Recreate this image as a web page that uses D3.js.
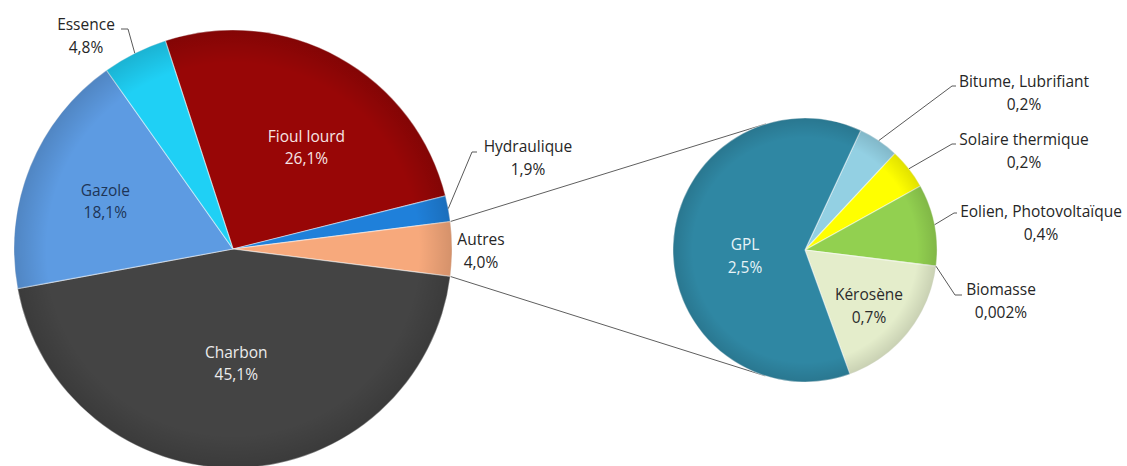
<!DOCTYPE html>
<html>
<head>
<meta charset="utf-8">
<script src="https://cdn.jsdelivr.net/npm/d3@7"></script>
<style>
  html, body { margin: 0; padding: 0; background: #ffffff; }
  svg { display: block; }
  text { font-family: "Open Sans", Lato, sans-serif; font-size: 15.5px; }
</style>
</head>
<body>
<svg id="chart" width="1127" height="466"></svg>
<script>
// ---------- DATA ----------
const mainCategories = ["Fioul lourd", "Hydraulique", "Autres", "Charbon", "Gazole", "Essence"];
const mainValues     = [26.1, 1.9, 4.0, 45.1, 18.1, 4.8];
const mainLabels     = ["26,1%", "1,9%", "4,0%", "45,1%", "18,1%", "4,8%"];

const subCategories  = ["Bitume, Lubrifiant", "Solaire thermique", "Eolien, Photovoltaïque", "Biomasse", "Kérosène", "GPL"];
const subValues      = [0.2, 0.2, 0.4, 0.002, 0.7, 2.5];
const subLabels      = ["0,2%", "0,2%", "0,4%", "0,002%", "0,7%", "2,5%"];

const otherCategory = "Autres";

// ---------- STYLE / LAYOUT ----------
const mainColors = {
  "Fioul lourd": "#980606", "Hydraulique": "#1f80da", "Autres": "#f7a97c",
  "Charbon": "#444444", "Gazole": "#5d9be2", "Essence": "#1fd0f5"
};
const subColors = {
  "Bitume, Lubrifiant": "#93d0e3", "Solaire thermique": "#ffff00",
  "Eolien, Photovoltaïque": "#92d050", "Biomasse": "#7fb13c",
  "Kérosène": "#e4edcb", "GPL": "#2f87a3"
};

const main = { cx: 233, cy: 249, r: 219 };
const sub  = { cx: 805, cy: 250, r: 132, start: 25 * Math.PI / 180 };

const mainLabelLayout = {
  "Fioul lourd": { inside: true, dA: 7, rr: 125, color: "#f6e4e4" },
  "Charbon":     { inside: true, dA: 0, rr: 115, color: "#ececec" },
  "Gazole":      { inside: true, dA: -2, rr: 136, color: "#1d3557" },
  "Essence":     { x: 86, y: 30, elbow: [128, 29], end: [121, 29] },
  "Hydraulique": { x: 528, y: 152, elbow: [472, 152], end: [477, 152] },
  "Autres":      { x: 481, y: 245 }
};
const subLabelLayout = {
  "GPL":                    { inside: true, x: 745, y: 250, color: "#e8f3f7" },
  "Kérosène":               { inside: true, x: 869, y: 300, color: "#2b2b2b" },
  "Bitume, Lubrifiant":     { x: 1024, y: 87,  elbow: [952, 86],  end: [956, 86] },
  "Solaire thermique":      { x: 1024, y: 145, elbow: [952, 144], end: [956, 144] },
  "Eolien, Photovoltaïque": { x: 1041, y: 217, elbow: [954, 213], end: [957, 213] },
  "Biomasse":               { x: 1001, y: 295, elbow: [955, 295], end: [962, 295] }
};
const lineGap = 22.5;

const svg = d3.select("#chart");
const defs = svg.append("defs");

function shade(id, inner, outer) {
  const g = defs.append("radialGradient").attr("id", id)
    .attr("cx", "50%").attr("cy", "50%").attr("r", "50%");
  g.append("stop").attr("offset", "0%").attr("stop-color", "#000").attr("stop-opacity", inner);
  g.append("stop").attr("offset", "85%").attr("stop-color", "#000").attr("stop-opacity", inner);
  g.append("stop").attr("offset", "100%").attr("stop-color", "#000").attr("stop-opacity", outer);
}
shade("shadeMain", 0, 0.14);
shade("shadeSub", 0, 0.12);

// ---------- MAIN PIE ----------
const total = d3.sum(mainValues);
const idxOther = mainCategories.indexOf(otherCategory);
const before = d3.sum(mainValues.slice(0, idxOther));
const mainStart = Math.PI / 2 - (before + mainValues[idxOther] / 2) / total * 2 * Math.PI;

const mainPie = d3.pie().sort(null).value(d => d.v)
  .startAngle(mainStart).endAngle(mainStart + 2 * Math.PI);
const mainData = mainPie(mainCategories.map((c, i) => ({ c, v: mainValues[i], l: mainLabels[i] })));
const mainArc = d3.arc().innerRadius(0).outerRadius(main.r);

// ---------- SUB PIE ----------
const subPie = d3.pie().sort(null).value(d => d.v)
  .startAngle(sub.start).endAngle(sub.start + 2 * Math.PI);
const subData = subPie(subCategories.map((c, i) => ({ c, v: subValues[i], l: subLabels[i] })));
const subArc = d3.arc().innerRadius(0).outerRadius(sub.r);

// ---------- CONNECTOR LINES ----------
const otherSlice = mainData[idxOther];
function polar(cx, cy, r, a) { return [cx + r * Math.sin(a), cy - r * Math.cos(a)]; }
const pTop = polar(main.cx, main.cy, main.r, otherSlice.startAngle);
const pBot = polar(main.cx, main.cy, main.r, otherSlice.endAngle);
function tangent(p, upper) {
  const dx = p[0] - sub.cx, dy = p[1] - sub.cy;
  const d = Math.hypot(dx, dy);
  const phi = Math.atan2(dy, dx);
  const a = Math.acos(sub.r / d);
  const t = upper ? phi + a : phi - a;
  return [sub.cx + sub.r * Math.cos(t), sub.cy + sub.r * Math.sin(t)];
}
const tTop = tangent(pTop, true);
const tBot = tangent(pBot, false);
const conn = svg.append("g").attr("stroke", "#5f5f5f").attr("stroke-width", 1).attr("fill", "none");
conn.append("line").attr("x1", pTop[0]).attr("y1", pTop[1]).attr("x2", tTop[0]).attr("y2", tTop[1]);
conn.append("line").attr("x1", pBot[0]).attr("y1", pBot[1]).attr("x2", tBot[0]).attr("y2", tBot[1]);

const gMain = svg.append("g").attr("transform", `translate(${main.cx},${main.cy})`);
gMain.selectAll("path.slice").data(mainData).join("path")
  .attr("class", "slice")
  .attr("d", mainArc)
  .attr("fill", d => mainColors[d.data.c])
  .attr("stroke", "rgba(255,255,255,0.45)")
  .attr("stroke-width", 1.2)
  .attr("stroke-linejoin", "round");
gMain.append("circle").attr("r", main.r).attr("fill", "url(#shadeMain)");

const gSub = svg.append("g").attr("transform", `translate(${sub.cx},${sub.cy})`);
gSub.selectAll("path.slice").data(subData).join("path")
  .attr("class", "slice")
  .attr("d", subArc)
  .attr("fill", d => subColors[d.data.c])
  .attr("stroke", "rgba(255,255,255,0.45)")
  .attr("stroke-width", 1.2)
  .attr("stroke-linejoin", "round");
gSub.append("circle").attr("r", sub.r).attr("fill", "url(#shadeSub)");

// ---------- LABELS ----------
const labelsG = svg.append("g");
function twoLine(x, y, name, val, color) {
  const t = labelsG.append("text").attr("text-anchor", "middle").attr("fill", color || "#262626");
  t.append("tspan").attr("x", x).attr("y", y).text(name);
  t.append("tspan").attr("x", x).attr("y", y + lineGap).text(val);
}
function leader(pArc, elbow, end) {
  labelsG.append("polyline")
    .attr("points", [pArc, elbow, end].map(p => p.join(",")).join(" "))
    .attr("fill", "none").attr("stroke", "#595959").attr("stroke-width", 1);
}

mainData.forEach(d => {
  const L = mainLabelLayout[d.data.c];
  const mid = (d.startAngle + d.endAngle) / 2;
  if (L.inside) {
    const p = polar(main.cx, main.cy, L.rr, mid + L.dA * Math.PI / 180);
    twoLine(p[0], p[1] - lineGap / 2 + 5, d.data.c, d.data.l, L.color);
  } else {
    if (L.elbow) leader(polar(main.cx, main.cy, main.r, mid), L.elbow, L.end);
    twoLine(L.x, L.y, d.data.c, d.data.l);
  }
});

subData.forEach(d => {
  const L = subLabelLayout[d.data.c];
  const mid = (d.startAngle + d.endAngle) / 2;
  if (L.inside) {
    twoLine(L.x, L.y, d.data.c, d.data.l, L.color);
  } else {
    if (L.elbow) leader(polar(sub.cx, sub.cy, sub.r, mid), L.elbow, L.end);
    twoLine(L.x, L.y, d.data.c, d.data.l);
  }
});
</script>
</body>
</html>
